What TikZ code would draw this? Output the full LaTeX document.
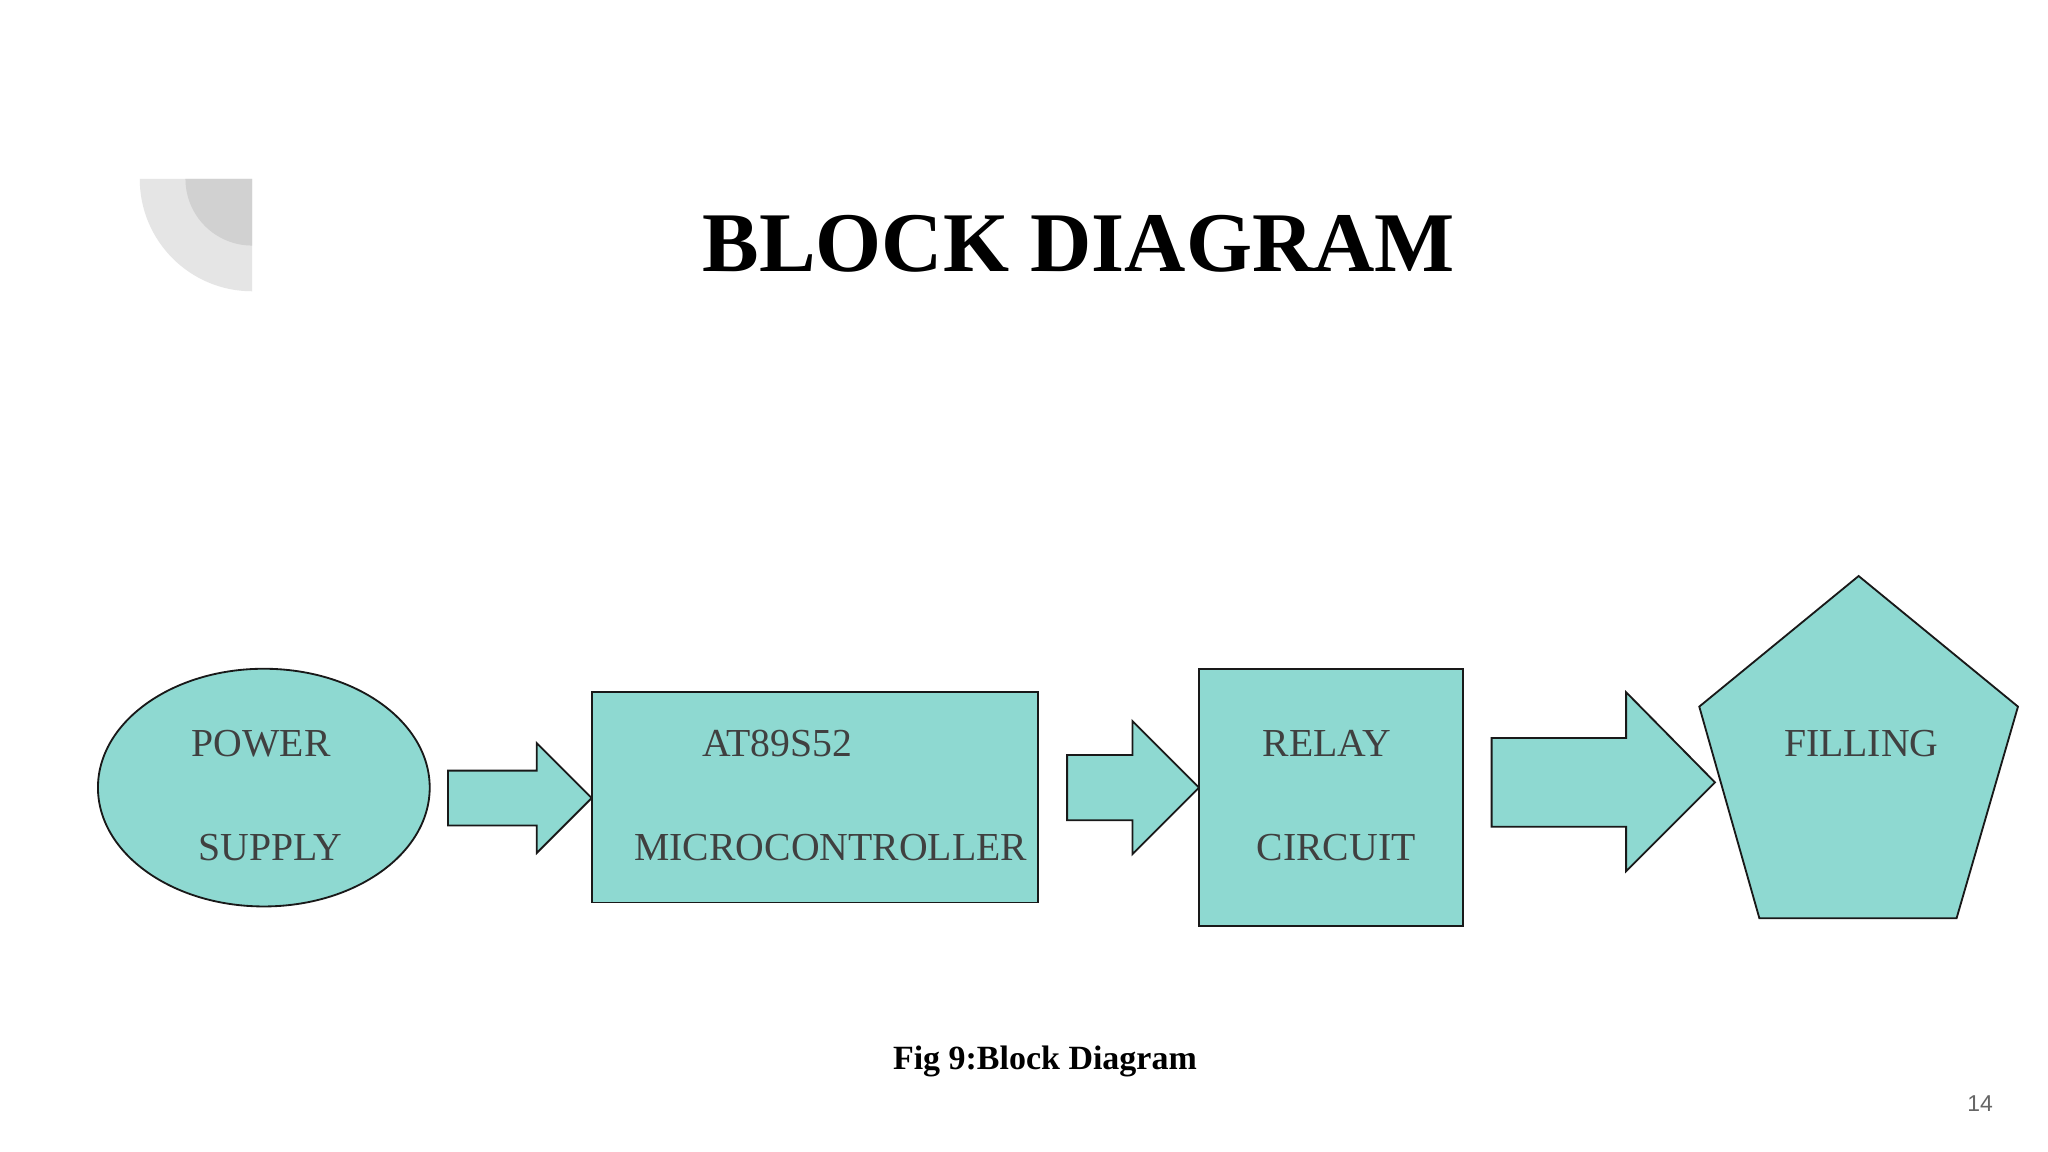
\documentclass[tikz,border=0pt]{standalone}
\usepackage{fontspec}
\setmainfont{Liberation Serif}
\newfontfamily\sansf{Liberation Sans}
\begin{document}
\begin{tikzpicture}[x=0.02cm,y=-0.02cm,
  blk/.style={fill=teal0,draw=gray!20!black,line width=0.8pt},
  lbl/.style={font=\fontsize{17.3}{20}\selectfont,text=black!75}]
\definecolor{teal0}{HTML}{8ED9D1}
\useasboundingbox (0,0) rectangle (1568,882);
\fill[white] (0,0) rectangle (1568,882);
% decoration
\fill[black!10] (193,137) -- (107,137) arc[start angle=180,end angle=90,radius=86] -- cycle;
\fill[black!18] (193,137) -- (142,137) arc[start angle=180,end angle=90,radius=51] -- cycle;
\node[font=\bfseries\fontsize{37}{42}\selectfont] (title) at (826,187) {BLOCK DIAGRAM};
% shapes
\draw[blk] (202,603) ellipse[x radius=127,y radius=91];
\draw[blk] (343,590) -- (411,590) -- (411,569) -- (453,611) -- (411,653) -- (411,632) -- (343,632) -- cycle;
\draw[blk] (453,530) rectangle (795,691);
\draw[blk] (817,578) -- (867,578) -- (867,552) -- (918,603) -- (867,654) -- (867,628) -- (817,628) -- cycle;
\draw[blk] (918,512) rectangle (1120,709);
\draw[blk] (1142,565) -- (1245,565) -- (1245,530) -- (1313,599) -- (1245,667) -- (1245,633) -- (1142,633) -- cycle;
\draw[blk] (1423,441) -- (1545,541) -- (1498,703) -- (1347,703) -- (1301,541) -- cycle;
% labels
\node[lbl] (p1) at (200,569) {POWER};
\node[lbl] (p2) at (207,649) {SUPPLY};
\node[lbl] (m1) at (595,569) {AT89S52};
\node[lbl] (m2) at (636,649) {MICROCONTROLLER};
\node[lbl] (r1) at (1016,569) {RELAY};
\node[lbl] (r2) at (1023,649) {CIRCUIT};
\node[lbl] (f1) at (1425,569) {FILLING};
\node[font=\bfseries\fontsize{14.8}{17}\selectfont] (cap) at (800,813) {Fig 9:Block Diagram};
\node[font=\sansf\fontsize{10}{12}\selectfont,text=black!60] (pg) at (1516,845) {14};
\end{tikzpicture}
\end{document}
